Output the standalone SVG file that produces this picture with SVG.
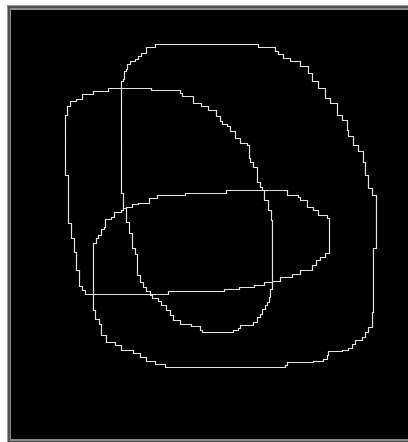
<svg xmlns="http://www.w3.org/2000/svg" width="408" height="442" viewBox="0 0 408 442">
<style>
.c{fill:none;stroke:#e2e2e2;stroke-width:1.2;stroke-linejoin:miter}
</style>
<rect width="408" height="442" fill="#ffffff"/>
<rect x="7" y="5" width="401" height="437" fill="#9a9a9a"/>
<rect x="8" y="6" width="400" height="436" fill="#505050"/>
<rect x="10" y="8" width="398" height="433" fill="#8a8a8a"/>
<rect x="11" y="10" width="397" height="429" fill="#000000"/>
<g transform="translate(0.5,0.5)">
<g id="curve-outer">
<path class="c" d="M155,44 H258 V47 H275 V51 H278 V54 H283 V58 H290 V61 H300 V66 H308 V73 H312 V81 H318 V88 H325 V98 H330 V103 H337 V115 H342 V120 H347 V130 H348 V136 H353 V145 H358 V151 H363 V162 H365 V175 H368 V188 H372 V195 H376 V248 H373 V312 H372 V327 H368 V332 H365 V337 H362 V340 H355 V344 H352 V348 H348 V350 H342 V351 H328 V355 H327 V359 H323 V361 H313 V362 H287 V365 H285 V367 H165 V364 H155 V361 H146 V357 H140 V353 H133 V350 H121 V345 H115 V342 H106 V335 H101 V324 H99 V319 H95 V310 H93 V243 H96 V238 H98 V235 H101 V229 H104 V227 H105 V219 H111 V217 H114 V212 H121 V210 H123 V193 H121 V81 H123 V79 H124 V71 H126 V69 H127 V64 H130 V61 H135 V59 H138 V56 H141 V53 H146 V47 H155 Z"/>
</g>
<g id="curve-left">
<path class="c" d="M108,88 H151 V90 H180 V93 H182 V96 H193 V103 H201 V106 H208 V110 H216 V116 H220 V121 H222 V124 H227 V126 H230 V131 H235 V138 H240 V143 H247 V145 H249 V158 H250 V162 H253 V167 H257 V182 H260 V187 H262 V190 H264 V200 H268 V210 H271 V220 H272 V282 H264 V285 H254 V287 H239 V289 H224 V291 H168 V294 H85 V290 H82 V286 H79 V270 H76 V252 H74 V238 H71 V223 H68 V175 H65 V115 H67 V106 H70 V101 H76 V99 H82 V94 H93 V91 H108 Z"/>
</g>
<g id="curve-middle">
<path class="c" d="M123,208 H126 V207 H132 V204 H138 V203 H149 V198 H157 V195 H185 V193 H226 V190 H287 V195 H298 V197 H300 V200 H307 V207 H313 V210 H318 V215 H327 V218 H329 V253 H325 V257 H320 V260 H316 V265 H312 V270 H300 V274 H292 V277 H280 V281 H272 V289 H270 V297 H269 V302 H267 V305 H265 V309 H262 V314 H260 V317 H257 V322 H253 V325 H240 V328 H238 V330 H233 V332 H202 V330 H200 V326 H191 V324 H180 V320 H173 V315 H170 V310 H166 V305 H161 V301 H158 V298 H152 V295 H150 V291 H146 V287 H143 V282 H140 V275 H137 V254 H135 V248 H132 V233 H129 V222 H126 V208 Z"/>
</g>
</g>
</svg>
